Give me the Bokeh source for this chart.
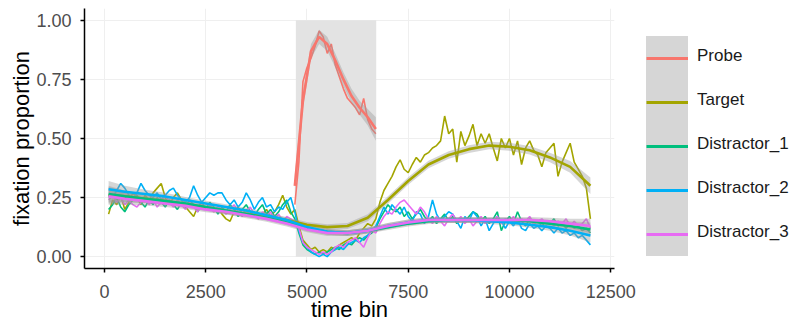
from bokeh.plotting import figure
from bokeh.layouts import row
from bokeh.models import Legend, LegendItem, NumeralTickFormatter, FixedTicker, Range1d
from bokeh.embed import file_html
from bokeh.resources import INLINE

# ---------------- data ----------------
time_bins = list(range(100, 12001, 100))

target = [
    0.18, 0.24, 0.22, 0.26, 0.20, 0.23, 0.27, 0.25, 0.22, 0.26,
    0.24, 0.27, 0.29, 0.31, 0.25, 0.22, 0.25, 0.27, 0.24, 0.21,
    0.19, 0.17, 0.21, 0.23, 0.20, 0.22, 0.19, 0.21, 0.18, 0.16,
    0.15, 0.19, 0.21, 0.18, 0.20, 0.17, 0.19, 0.16, 0.18, 0.20,
    0.17, 0.19, 0.22, 0.26, 0.21, 0.18, 0.20, 0.13, 0.07, 0.05,
    0.03, 0.04, 0.02, 0.03, 0.02, 0.04, 0.03, 0.05, 0.06, 0.07,
    0.08, 0.07, 0.10, 0.12, 0.14, 0.13, 0.16, 0.23, 0.28, 0.31,
    0.34, 0.38, 0.41, 0.37, 0.355, 0.39, 0.42, 0.40, 0.43, 0.44,
    0.46, 0.47, 0.49, 0.595, 0.52, 0.54, 0.40, 0.53, 0.47, 0.51,
    0.56, 0.47, 0.52, 0.48, 0.52, 0.46, 0.405, 0.50, 0.46, 0.50,
    0.43, 0.49, 0.39, 0.46, 0.49, 0.45, 0.43, 0.38, 0.44, 0.46,
    0.48, 0.34, 0.40, 0.44, 0.48, 0.40, 0.37, 0.34, 0.29, 0.16,
]

distractor_1 = [
    0.20, 0.22, 0.25, 0.21, 0.19, 0.22, 0.24, 0.26, 0.23, 0.21,
    0.24, 0.22, 0.25, 0.23, 0.21, 0.24, 0.22, 0.20, 0.23, 0.21,
    0.24, 0.22, 0.19, 0.22, 0.20, 0.23, 0.21, 0.18, 0.21, 0.19,
    0.22, 0.20, 0.17, 0.20, 0.22, 0.19, 0.17, 0.20, 0.22, 0.18,
    0.20, 0.17, 0.19, 0.22, 0.24, 0.19, 0.16, 0.10, 0.05, 0.03,
    0.02, 0.01, 0.02, 0.01, 0.02, 0.03, 0.04, 0.03, 0.05, 0.06,
    0.05, 0.07, 0.08, 0.07, 0.09, 0.10, 0.12, 0.16, 0.19, 0.22,
    0.20, 0.19, 0.21, 0.17, 0.19, 0.16, 0.18, 0.20, 0.17, 0.15,
    0.17, 0.14, 0.16, 0.18, 0.15, 0.17, 0.14, 0.16, 0.15, 0.17,
    0.19, 0.18, 0.15, 0.17, 0.14, 0.16, 0.19, 0.11, 0.15, 0.17,
    0.14, 0.19, 0.15, 0.13, 0.16, 0.14, 0.15, 0.13, 0.15, 0.14,
    0.16, 0.13, 0.14, 0.12, 0.14, 0.12, 0.13, 0.11, 0.12, 0.10,
]

distractor_2 = [
    0.26, 0.25, 0.28, 0.31, 0.29, 0.26, 0.24, 0.27, 0.31, 0.28,
    0.26, 0.25, 0.27, 0.24, 0.26, 0.28, 0.29, 0.26, 0.24, 0.23,
    0.25, 0.30, 0.26, 0.23, 0.25, 0.27, 0.26, 0.27, 0.27, 0.24,
    0.22, 0.24, 0.21, 0.23, 0.27, 0.24, 0.20, 0.23, 0.25, 0.21,
    0.22, 0.19, 0.21, 0.20, 0.23, 0.25, 0.19, 0.11, 0.06, 0.04,
    0.02, 0.01, 0.00, 0.01, 0.00, 0.02, 0.03, 0.04, 0.03, 0.05,
    0.06, 0.07, 0.06, 0.08, 0.09, 0.11, 0.13, 0.17, 0.21, 0.18,
    0.22, 0.20, 0.18, 0.21, 0.17, 0.15, 0.19, 0.18, 0.14, 0.17,
    0.24, 0.18, 0.15, 0.17, 0.19, 0.18, 0.15, 0.12, 0.17, 0.15,
    0.19, 0.17, 0.13, 0.16, 0.11, 0.14, 0.17, 0.15, 0.12, 0.15,
    0.13, 0.16, 0.12, 0.11, 0.14, 0.12, 0.13, 0.11, 0.13, 0.12,
    0.10, 0.12, 0.10, 0.11, 0.09, 0.10, 0.08, 0.09, 0.07, 0.05,
]

distractor_3 = [
    0.24, 0.26, 0.23, 0.25, 0.22, 0.24, 0.22, 0.21, 0.23, 0.25,
    0.22, 0.24, 0.21, 0.23, 0.26, 0.23, 0.21, 0.24, 0.22, 0.20,
    0.23, 0.21, 0.19, 0.22, 0.20, 0.22, 0.19, 0.21, 0.20, 0.18,
    0.20, 0.22, 0.19, 0.17, 0.19, 0.21, 0.18, 0.16, 0.19, 0.17,
    0.19, 0.16, 0.18, 0.15, 0.17, 0.16, 0.15, 0.12, 0.06, 0.04,
    0.03, 0.02, 0.01, 0.02, 0.01, 0.02, 0.04, 0.05, 0.04, 0.06,
    0.07, 0.08, 0.06, 0.04, 0.08, 0.11, 0.10, 0.14, 0.17, 0.19,
    0.18, 0.21, 0.23, 0.24, 0.22, 0.20, 0.18, 0.21, 0.19, 0.16,
    0.14, 0.17, 0.15, 0.13, 0.16, 0.18, 0.15, 0.17, 0.14, 0.16,
    0.13, 0.15, 0.17, 0.14, 0.16, 0.15, 0.17, 0.14, 0.16, 0.15,
    0.17, 0.14, 0.16, 0.15, 0.17, 0.14, 0.15, 0.16, 0.14, 0.15,
    0.13, 0.15, 0.14, 0.16, 0.13, 0.15, 0.13, 0.14, 0.16, 0.12,
]

probe_bins = list(range(4700, 6701, 100))
probe = [0.22, 0.40, 0.74, 0.80, 0.84, 0.89, 0.955, 0.93, 0.86, 0.90, 0.81,
         0.76, 0.71, 0.67, 0.65, 0.63, 0.60, 0.67, 0.58, 0.54, 0.52]

# smoothed (loess) curves and their standard-error half widths
smooth_bins = [100, 500, 1000, 1500, 2000, 2500, 3000, 3500, 4000, 4500, 5000, 5500,
               6000, 6500, 7000, 7500, 8000, 8500, 9000, 9500, 10000, 10500, 11000,
               11500, 12000]
target_smooth = [0.26, 0.255, 0.245, 0.235, 0.22, 0.205, 0.19, 0.18, 0.17, 0.155, 0.135,
                 0.125, 0.13, 0.165, 0.24, 0.32, 0.39, 0.43, 0.455, 0.47, 0.465, 0.45,
                 0.42, 0.38, 0.30]
d1_smooth = [0.265, 0.255, 0.245, 0.235, 0.225, 0.21, 0.195, 0.18, 0.165, 0.145, 0.12,
             0.105, 0.10, 0.11, 0.125, 0.14, 0.15, 0.155, 0.155, 0.155, 0.155, 0.15,
             0.14, 0.13, 0.115]
d2_smooth = [0.285, 0.275, 0.265, 0.255, 0.24, 0.225, 0.21, 0.195, 0.175, 0.155, 0.125,
             0.105, 0.10, 0.11, 0.13, 0.145, 0.155, 0.155, 0.155, 0.15, 0.145, 0.135,
             0.125, 0.11, 0.09]
d3_smooth = [0.255, 0.245, 0.235, 0.225, 0.215, 0.20, 0.19, 0.175, 0.16, 0.14, 0.115,
             0.10, 0.10, 0.11, 0.13, 0.145, 0.155, 0.155, 0.155, 0.155, 0.155, 0.155,
             0.15, 0.14, 0.13]
distractor_se = [0.035, 0.025, 0.018, 0.015, 0.013, 0.012, 0.012, 0.012, 0.012, 0.012,
                 0.012, 0.012, 0.012, 0.012, 0.012, 0.012, 0.012, 0.012, 0.012, 0.012,
                 0.012, 0.013, 0.015, 0.02, 0.03]
target_se = [0.035, 0.025, 0.018, 0.015, 0.013, 0.012, 0.012, 0.012, 0.012, 0.012,
             0.012, 0.012, 0.013, 0.015, 0.016, 0.016, 0.016, 0.016, 0.016, 0.016,
             0.017, 0.018, 0.02, 0.025, 0.035]

probe_smooth_bins = [4700, 4900, 5100, 5300, 5500, 5700, 5900, 6100, 6300, 6500, 6700]
probe_smooth = [0.30, 0.66, 0.87, 0.93, 0.90, 0.83, 0.75, 0.68, 0.63, 0.59, 0.54]
probe_se = [0.05, 0.035, 0.03, 0.03, 0.03, 0.03, 0.03, 0.03, 0.03, 0.035, 0.05]

probe_window_start = [4725]
probe_window_end = [6710]
probe_window_bottom = [0.0]
probe_window_top = [1.0]

series_names = ["Probe", "Target", "Distractor_1", "Distractor_2", "Distractor_3"]
series_colors = ["#F8766D", "#A3A500", "#00BF7D", "#00B0F6", "#E76BF3"]

x_ticks = [0, 2500, 5000, 7500, 10000, 12500]
y_ticks = [0.0, 0.25, 0.5, 0.75, 1.0]

for s in (target, distractor_1, distractor_2, distractor_3):
    assert len(s) == len(time_bins), len(s)
assert len(probe) == len(probe_bins)

FONT = "Liberation Sans"

p = figure(width=646, height=327, output_backend="svg", toolbar_location=None,
           x_range=Range1d(-495, 12595), y_range=Range1d(-0.05, 1.05),
           min_border_left=84, min_border_right=32, min_border_top=8,
           min_border_bottom=59, background_fill_color="white",
           border_fill_color="white")
p.outline_line_color = None

# axes
for ax in (p.xaxis[0], p.yaxis[0]):
    ax.axis_line_color = "black"
    ax.axis_line_width = 1.5
    ax.major_tick_line_color = "black"
    ax.major_tick_line_width = 1.5
    ax.major_tick_out = 4
    ax.major_tick_in = 0
    ax.minor_tick_line_color = None
    ax.major_label_text_font = FONT
    ax.major_label_text_font_size = "18px"
    ax.major_label_text_color = "#4d4d4d"
    ax.axis_label_text_font = FONT
    ax.axis_label_text_font_size = "22px"
    ax.axis_label_text_font_style = "normal"
    ax.axis_label_text_color = "black"

p.xaxis.ticker = FixedTicker(ticks=x_ticks)
p.yaxis.ticker = FixedTicker(ticks=y_ticks)
p.yaxis.formatter = NumeralTickFormatter(format="0.00")
p.xaxis.axis_label = "time bin"
p.yaxis.axis_label = "fixation proportion"
p.xaxis.major_label_standoff = 12
p.xaxis.axis_label_standoff = -4
p.yaxis.major_label_standoff = 9
p.yaxis.axis_label_standoff = -1

p.xgrid.grid_line_color = "#efefef"
p.ygrid.grid_line_color = "#efefef"
p.xgrid.ticker = FixedTicker(ticks=x_ticks)
p.ygrid.ticker = FixedTicker(ticks=y_ticks)

# probe window shading
p.quad(left=probe_window_start, right=probe_window_end, bottom=probe_window_bottom,
       top=probe_window_top, fill_color="#e3e3e3", fill_alpha=1.0, line_color=None)

# raw lines
raw = [(probe_bins, probe), (time_bins, target), (time_bins, distractor_1),
       (time_bins, distractor_2), (time_bins, distractor_3)]
for (xs, ys), c in zip(raw, series_colors):
    p.line(xs, ys, line_color=c, line_width=1.6)

# smooths with ribbons
smooths = [
    (probe_smooth_bins, probe_smooth, probe_se),
    (smooth_bins, target_smooth, target_se),
    (smooth_bins, d1_smooth, distractor_se),
    (smooth_bins, d2_smooth, distractor_se),
    (smooth_bins, d3_smooth, distractor_se),
]
for (xs, ys, se), c in zip(smooths, series_colors):
    lo = [y - e for y, e in zip(ys, se)]
    hi = [y + e for y, e in zip(ys, se)]
    p.varea(x=xs, y1=lo, y2=hi, fill_color="#999999", fill_alpha=0.4)
for (xs, ys, se), c in zip(smooths, series_colors):
    p.line(xs, ys, line_color=c, line_width=2.6)

# ---------------- legend panel (separate canvas to the right) ----------------
# its frame is aligned with the main plot's frame (top 8px, bottom 268px)
lf = figure(width=154, height=327, output_backend="svg", toolbar_location=None,
            x_range=Range1d(0, 1), y_range=Range1d(0, 1),
            min_border_left=0, min_border_right=0, min_border_top=8,
            min_border_bottom=59, background_fill_color="white",
            border_fill_color="white")
lf.axis.visible = False
lf.grid.visible = False
lf.outline_line_color = None

# key proxies: same series, outside this canvas' ranges so only the legend keys show
key_renderers = [lf.line(xs, ys, line_color=c, line_width=2.8)
                 for (xs, ys), c in zip(raw, series_colors)]

key_legend = Legend(
    items=[LegendItem(label="", renderers=[r]) for r in key_renderers],
    location=(0, 12), padding=2, spacing=0, glyph_width=42, glyph_height=44,
    label_width=0, label_standoff=0, margin=0,
    background_fill_color="#d6d6d6", background_fill_alpha=1.0,
    border_line_color=None,
)
label_legend = Legend(
    items=[LegendItem(label=n, renderers=[]) for n in series_names],
    location=(46, 14), padding=0, spacing=0, glyph_width=0, glyph_height=44,
    label_standoff=5, margin=0, background_fill_alpha=0.0, border_line_color=None,
    label_text_font=FONT, label_text_font_size="17px", label_text_color="#1a1a1a",
)
lf.add_layout(key_legend, "center")
lf.add_layout(label_legend, "center")

layout = row(p, lf, spacing=0)
open("out.html", "w").write(file_html(layout, INLINE))
